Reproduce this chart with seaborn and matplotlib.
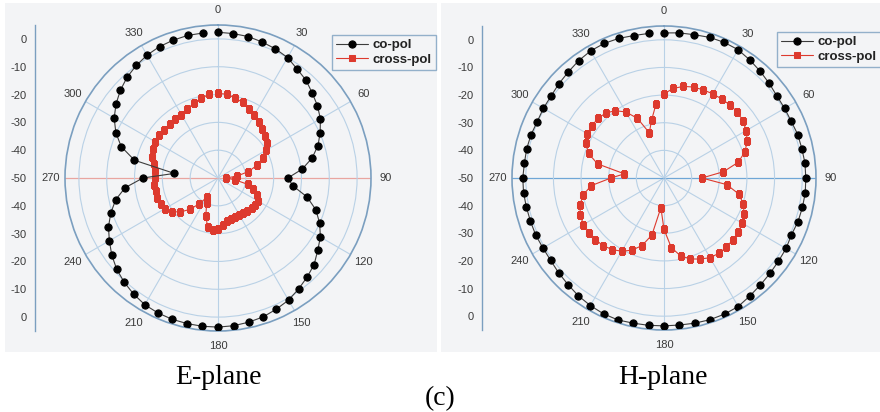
import numpy as np
import pandas as pd
import matplotlib
matplotlib.use("Agg")
import matplotlib.pyplot as plt
import seaborn as sns
from matplotlib.patches import Rectangle

# ---------------- data (dB, every 6 degrees, 0..354) ----------------
angles_deg = list(range(0, 360, 6))

e_copol = [2.4, 2.2, 2.0, 1.4, 0.8, 0.0, -1.6, -2.7, -4.4, -5.8,
           -7.5, -9.8, -12.2, -15.4, -19.6, -24.9, -22.9, -17.3, -13.0, -10.0,
           -7.5, -5.7, -3.5, -2.1, -0.7, 0.7, 1.6, 2.5, 3.0, 3.4,
           3.6, 3.6, 3.5, 3.4, 3.1, 2.6, 1.6, 0.4, -1.0, -2.8,
           -4.9, -6.9, -9.5, -12.4, -16.4, -23.0, -34.2, -19.3, -13.4, -9.8,
           -6.9, -4.7, -2.8, -1.2, 0.0, 1.0, 1.7, 2.1, 2.4, 2.4]

e_xpol = [-19.6, -19.7, -20.6, -21.4, -22.8, -24.0, -25.2, -26.2, -27.2, -28.4,
          -30.0, -32.4, -35.3, -38.8, -43.0, -47.0, -44.0, -39.0, -36.8, -34.8,
          -33.6, -33.5, -33.7, -34.2, -34.6, -34.7, -34.8, -34.6, -34.2, -33.0,
          -31.8, -31.1, -32.0, -35.8, -40.0, -42.0, -38.5, -34.8, -31.7, -29.5,
          -28.0, -27.4, -27.1, -27.1, -27.0, -27.2, -27.2, -26.3, -25.1, -24.5,
          -24.0, -23.9, -24.0, -24.1, -24.0, -23.7, -22.9, -21.7, -20.7, -19.8]

h_copol = [2.5, 2.8, 3.0, 3.5, 3.7, 3.6, 2.8, 2.0, 1.2, 0.5,
           0.4, 0.4, 0.9, 1.0, 1.3, 1.3, 1.4, 1.2, 1.0, 0.5,
           1.0, 1.2, 1.6, 2.1, 2.8, 3.7, 3.9, 3.9, 3.7, 3.5,
           3.5, 3.6, 3.7, 4.0, 3.8, 3.3, 2.7, 1.9, 1.3, 0.7,
           0.6, 0.8, 0.8, 0.9, 1.1, 1.1, 0.8, 0.8, 0.6, 0.2,
           0.4, 0.5, 1.1, 1.7, 2.5, 3.1, 3.3, 3.1, 2.7, 2.6]

h_xpol = [-19.5, -17.4, -16.1, -15.4, -15.1, -14.8, -14.6, -14.4, -14.3, -14.7,
          -15.7, -17.0, -19.2, -22.5, -28.4, -36.3, -27.2, -22.4, -19.8, -18.3,
          -17.4, -16.7, -16.5, -16.3, -16.3, -16.7, -17.9, -19.2, -21.2, -24.7,
          -31.4, -39.2, -28.9, -24.3, -21.4, -19.4, -18.0, -17.1, -16.6, -16.4,
          -16.3, -16.9, -18.0, -20.0, -23.5, -30.8, -35.6, -25.4, -21.3, -19.0,
          -18.0, -17.8, -17.8, -18.4, -19.9, -22.4, -26.4, -32.8, -28.5, -22.9]

theta_ticks = list(range(0, 360, 30))
theta_labels = [str(t) for t in theta_ticks]
r_grid = [-40, -30, -20, -10, 0]
lin_tick_pos = [50, 40, 30, 20, 10, 0, -10, -20, -30, -40, -50]
lin_tick_labels = ['0', '-10', '-20', '-30', '-40', '-50', '-40', '-30', '-20', '-10', '0']
series_names = ['co-pol', 'cross-pol']
panel_titles = ['E-plane', 'H-plane']

# ---------------- style ----------------
sns.set_style("white")
plt.rcParams['font.family'] = ['Liberation Sans', 'DejaVu Sans']

W, H = 880, 412
fig = plt.figure(figsize=(W / 100, H / 100), dpi=100)
fig.patch.set_facecolor('white')

BG = '#f3f4f6'
GRID = '#b9d1e6'
SPINE = '#7b9fc0'
TXT = '#3a3a3a'
RED = '#dd3a2e'

def fx(px):
    return px / W

def fy(py):
    return 1 - py / H

# gray image backgrounds
fig.add_artist(Rectangle((fx(5), fy(352)), fx(432), 349 / H, transform=fig.transFigure,
                         facecolor=BG, edgecolor='none', zorder=-10))
fig.add_artist(Rectangle((fx(441), fy(352)), fx(439), 349 / H, transform=fig.transFigure,
                         facecolor=BG, edgecolor='none', zorder=-10))

panels = [
    dict(cx=218, cy=178, R=153, axx=35, co=e_copol, xp=e_xpol, hcol='#e9a5a0',
         leg=(332, 35), title_x=218),
    dict(cx=664, cy=178, R=152, axx=482, co=h_copol, xp=h_xpol, hcol='#6fa6d6',
         leg=(777, 32), title_x=663),
]

for p, title in zip(panels, panel_titles):
    cx, cy, R = p['cx'], p['cy'], p['R']
    ax = fig.add_axes([fx(cx - R), fy(cy + R), 2 * R / W, 2 * R / H], projection='polar')
    ax.set_facecolor('none')
    ax.set_theta_zero_location('N')
    ax.set_theta_direction(-1)

    th = np.deg2rad(angles_deg + [angles_deg[0]])
    df_co = pd.DataFrame({'theta': th, 'db': p['co'] + [p['co'][0]]})
    df_xp = pd.DataFrame({'theta': th, 'db': p['xp'] + [p['xp'][0]]})

    sns.lineplot(data=df_co, x='theta', y='db', ax=ax, sort=False, color='#3c3c3c',
                 linewidth=0.8, marker='o', markersize=5.2, markerfacecolor='black',
                 markeredgecolor='black', label=series_names[0], zorder=4)
    sns.lineplot(data=df_xp, x='theta', y='db', ax=ax, sort=False, color=RED,
                 linewidth=0.8, marker='s', markersize=4.6, markerfacecolor=RED,
                 markeredgecolor=RED, label=series_names[1], zorder=3)

    ax.set_ylim(-50, 5)
    ax.set_xlabel('')
    ax.set_ylabel('')
    ax.set_thetagrids(theta_ticks, theta_labels)
    ax.set_rgrids(r_grid, labels=[''] * len(r_grid))
    ax.tick_params(axis='x', colors=TXT, labelsize=8, pad=0)
    ax.grid(True, color=GRID, linewidth=0.8)
    ax.spines['polar'].set_color(SPINE)
    ax.spines['polar'].set_linewidth(1.2)
    glines = ax.xaxis.get_gridlines()
    for idx in (3, 9):
        glines[idx].set_color(p['hcol'])
        glines[idx].set_linewidth(0.9)

    lx, ly = p['leg']
    leg = ax.legend(loc='upper left', bbox_to_anchor=(fx(lx), fy(ly)),
                    bbox_transform=fig.transFigure, frameon=True, fancybox=False,
                    prop={'weight': 'bold', 'size': 9.5}, handlelength=2.4,
                    handletextpad=0.4, borderpad=0.3, labelspacing=0.2,
                    borderaxespad=0)
    leg.get_frame().set_edgecolor(SPINE)
    leg.get_frame().set_linewidth(1.0)
    leg.get_frame().set_facecolor(BG)
    for t in leg.get_texts():
        t.set_color('#222222')

    # linear dB scale on the left
    la = fig.add_axes([fx(p['axx']), fy(cy + R), 0.0005, 2 * R / H])
    la.set_facecolor('none')
    la.set_ylim(-55, 55)
    la.set_xticks([])
    for s in ('top', 'right', 'bottom'):
        la.spines[s].set_visible(False)
    la.spines['left'].set_color(SPINE)
    la.spines['left'].set_linewidth(1.0)
    la.set_yticks(lin_tick_pos)
    la.set_yticklabels(lin_tick_labels)
    la.set_yticks(list(np.arange(-55, 56, 5)), minor=True)
    la.tick_params(axis='y', which='major', direction='out', length=4, width=1,
                   color=SPINE, labelcolor=TXT, labelsize=8, pad=2)
    la.tick_params(axis='y', which='minor', direction='out', length=2, width=0.8, color=SPINE)

    fig.text(fx(p['title_x']), fy(378), title, ha='center', va='center',
             fontsize=20, family=['Liberation Serif', 'DejaVu Serif'], color='black')

fig.text(fx(440), fy(399), '(c)', ha='center', va='center', fontsize=20,
         family=['Liberation Serif', 'DejaVu Serif'], color='black')

fig.savefig('out.png', dpi=100)
